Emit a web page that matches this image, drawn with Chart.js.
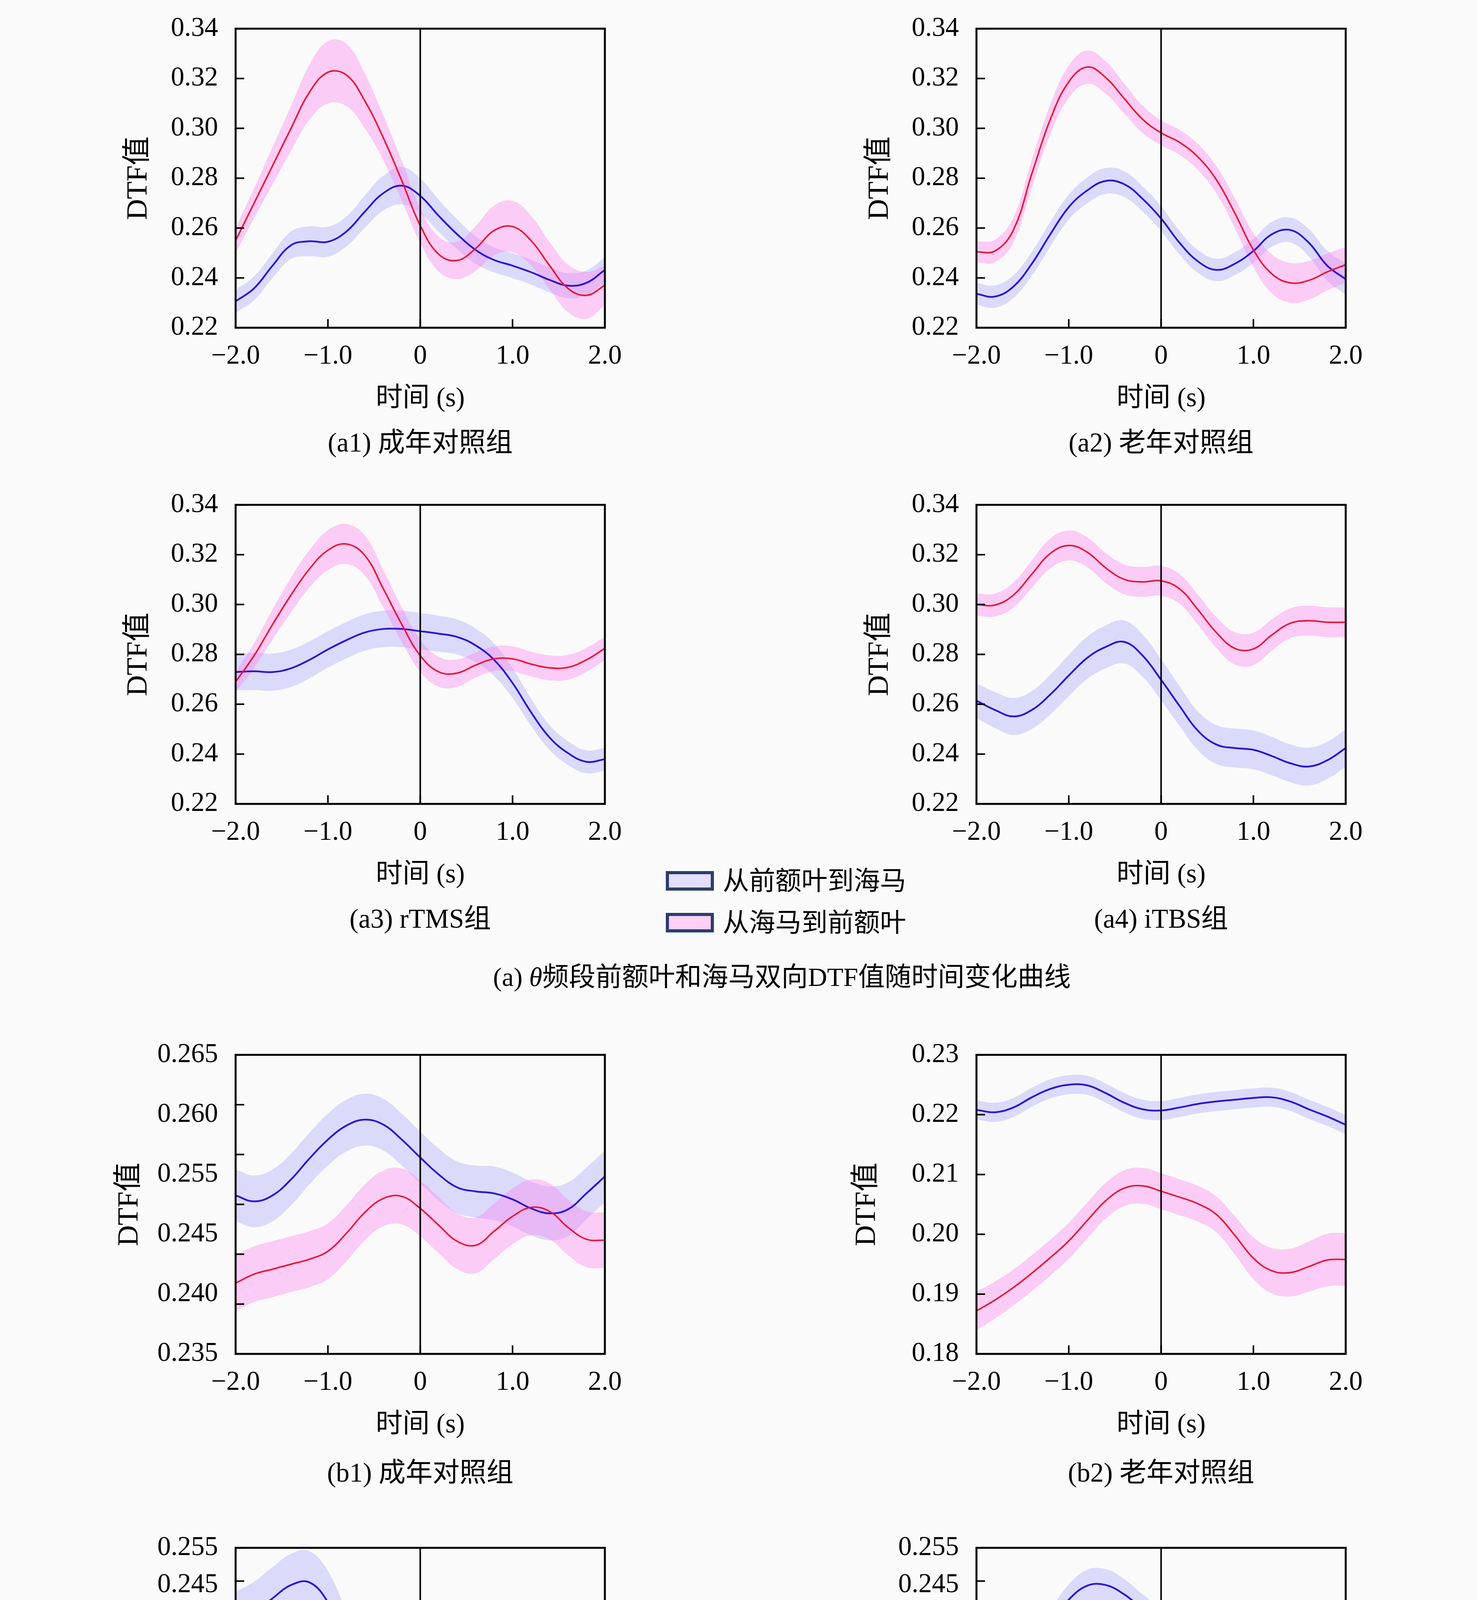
<!DOCTYPE html>
<html lang="zh">
<head>
<meta charset="utf-8">
<title>前额叶和海马双向DTF值随时间变化曲线</title>
<script src="https://cdn.jsdelivr.net/npm/chart.js@4.4.1/dist/chart.umd.min.js"></script>
<style>
  html, body { margin: 0; padding: 0; background: #fafafa; }
  body {
    width: 3780px; height: 5208px; position: relative; overflow: hidden;
    font-family: 'Liberation Serif', 'Noto Sans CJK SC', serif; color: #000;
  }
  .panel { position: absolute; }
  .caption {
    position: absolute; font-size: 69px; line-height: 82px; white-space: nowrap;
    transform: translate(-50%, -50%);
  }
  .caption.group { font-size: 68px; }
  .legend {
    position: absolute; display: flex; align-items: center; font-size: 67px;
    line-height: 80px; white-space: nowrap; transform: translateY(-50%);
  }
  .legend .box { width: 107px; height: 34px; border: 8px solid #2c3d6c; margin-right: 23px; }
</style>
</head>
<body>
<script>
// time axis (s)
const TIME = [-2.0, -1.8, -1.6, -1.4, -1.2, -1.0, -0.8, -0.6, -0.4, -0.2, 0.0,
              0.2, 0.4, 0.6, 0.8, 1.0, 1.2, 1.4, 1.6, 1.8, 2.0];
const X_TICKS = [-2, -1, 0, 1, 2];
const X_LABELS = ['−2.0', '−1.0', '0', '1.0', '2.0'];

// y tick labels, top to bottom, as printed
const A_Y_LABELS = ['0.34', '0.32', '0.30', '0.28', '0.26', '0.24', '0.22'];
const B1_Y_LABELS = ['0.265', '0.260', '0.255', '0.245', '0.240', '0.235'];
const B2_Y_LABELS = ['0.23', '0.22', '0.21', '0.20', '0.19', '0.18'];
const B34_Y_LABELS = ['0.255', '0.245', '0.240', '0.235', '0.230', '0.225', '0.220', '0.215', '0.210'];

// θ band: 从前额叶到海马 (blue) / 从海马到前额叶 (red), mean and half width of shaded band
const a1Blue = [0.2306, 0.2358, 0.2449, 0.2531, 0.2547, 0.2545, 0.2586, 0.2666, 0.2740, 0.2770, 0.2729,
                0.2649, 0.2575, 0.2512, 0.2472, 0.2449, 0.2423, 0.2392, 0.2369, 0.2380, 0.2432];
const a1BlueErr = [0.0046, 0.0048, 0.0050, 0.0055, 0.0060, 0.0060, 0.0060, 0.0065, 0.0070, 0.0075, 0.0070,
                   0.0065, 0.0060, 0.0055, 0.0050, 0.0050, 0.0050, 0.0050, 0.0050, 0.0050, 0.0050];
const a1Red = [0.2550, 0.2700, 0.2850, 0.3000, 0.3145, 0.3225, 0.3214, 0.3110, 0.2962, 0.2790, 0.2610,
               0.2495, 0.2470, 0.2518, 0.2590, 0.2606, 0.2550, 0.2450, 0.2358, 0.2330, 0.2370];
const a1RedErr = [0.0050, 0.0060, 0.0075, 0.0090, 0.0110, 0.0125, 0.0125, 0.0110, 0.0090, 0.0080, 0.0070,
                  0.0070, 0.0075, 0.0090, 0.0100, 0.0103, 0.0100, 0.0095, 0.0095, 0.0094, 0.0080];

const a2Blue = [0.2336, 0.2325, 0.2365, 0.2457, 0.2575, 0.2684, 0.2751, 0.2789, 0.2776, 0.2717, 0.2638,
                0.2541, 0.2466, 0.2432, 0.2457, 0.2508, 0.2575, 0.2592, 0.2541, 0.2449, 0.2395];
const a2BlueErr = [0.0044, 0.0045, 0.0046, 0.0048, 0.0050, 0.0050, 0.0052, 0.0052, 0.0052, 0.0050, 0.0050,
                   0.0048, 0.0046, 0.0045, 0.0046, 0.0048, 0.0050, 0.0050, 0.0055, 0.0060, 0.0063];
const a2Red = [0.2504, 0.2508, 0.2592, 0.2818, 0.3036, 0.3187, 0.3246, 0.3204, 0.3120, 0.3036, 0.2982,
               0.2944, 0.2885, 0.2793, 0.2659, 0.2512, 0.2416, 0.2380, 0.2390, 0.2424, 0.2453];
const a2RedErr = [0.0042, 0.0045, 0.0050, 0.0055, 0.0060, 0.0065, 0.0067, 0.0065, 0.0060, 0.0055, 0.0050,
                  0.0050, 0.0052, 0.0055, 0.0060, 0.0068, 0.0078, 0.0080, 0.0078, 0.0074, 0.0071];

const a3Blue = [0.2729, 0.2732, 0.2729, 0.2744, 0.2778, 0.2820, 0.2857, 0.2888, 0.2902, 0.2902, 0.2893,
                0.2883, 0.2870, 0.2836, 0.2778, 0.2685, 0.2568, 0.2467, 0.2404, 0.2369, 0.2379];
const a3BlueErr = [0.0073, 0.0075, 0.0075, 0.0075, 0.0074, 0.0073, 0.0073, 0.0073, 0.0073, 0.0073, 0.0073,
                   0.0072, 0.0070, 0.0068, 0.0065, 0.0060, 0.0055, 0.0050, 0.0048, 0.0046, 0.0046];
const a3Red = [0.2690, 0.2795, 0.2920, 0.3038, 0.3143, 0.3218, 0.3243, 0.3197, 0.3063, 0.2920, 0.2795,
               0.2730, 0.2725, 0.2757, 0.2782, 0.2782, 0.2761, 0.2746, 0.2748, 0.2778, 0.2824];
const a3RedErr = [0.0040, 0.0050, 0.0060, 0.0070, 0.0075, 0.0080, 0.0080, 0.0080, 0.0075, 0.0070, 0.0065,
                  0.0060, 0.0055, 0.0050, 0.0050, 0.0050, 0.0050, 0.0050, 0.0050, 0.0048, 0.0046];

const a4Blue = [0.2614, 0.2577, 0.2551, 0.2577, 0.2639, 0.2715, 0.2786, 0.2830, 0.2850, 0.2795, 0.2698,
                0.2593, 0.2493, 0.2438, 0.2424, 0.2417, 0.2392, 0.2363, 0.2350, 0.2375, 0.2424];
const a4BlueErr = [0.0070, 0.0072, 0.0074, 0.0076, 0.0080, 0.0083, 0.0085, 0.0086, 0.0086, 0.0085, 0.0083,
                   0.0080, 0.0078, 0.0078, 0.0078, 0.0078, 0.0077, 0.0076, 0.0076, 0.0075, 0.0075];
const a4Red = [0.3000, 0.2998, 0.3038, 0.3122, 0.3205, 0.3237, 0.3210, 0.3147, 0.3101, 0.3091, 0.3095,
               0.3063, 0.2979, 0.2887, 0.2824, 0.2822, 0.2878, 0.2925, 0.2935, 0.2929, 0.2929];
const a4RedErr = [0.0044, 0.0046, 0.0050, 0.0055, 0.0060, 0.0060, 0.0060, 0.0060, 0.0060, 0.0060, 0.0060,
                  0.0060, 0.0060, 0.0062, 0.0065, 0.0065, 0.0063, 0.0060, 0.0060, 0.0060, 0.0059];

// γ band
const b1Blue = [0.2509, 0.2503, 0.2509, 0.2525, 0.2546, 0.2565, 0.2579, 0.2585, 0.2580, 0.2565, 0.2547,
                0.2530, 0.2517, 0.2513, 0.2511, 0.2505, 0.2496, 0.2491, 0.2495, 0.2511, 0.2528];
const b1BlueErr = [0.0026, 0.0026, 0.0026, 0.0026, 0.0026, 0.0026, 0.0026, 0.0026, 0.0026, 0.0026, 0.0026,
                   0.0026, 0.0026, 0.0026, 0.0027, 0.0027, 0.0027, 0.0027, 0.0027, 0.0026, 0.0026];
const b1Red = [0.2421, 0.2430, 0.2435, 0.2440, 0.2445, 0.2453, 0.2471, 0.2492, 0.2506, 0.2508, 0.2496,
               0.2479, 0.2463, 0.2459, 0.2473, 0.2488, 0.2497, 0.2493, 0.2477, 0.2465, 0.2464];
const b1RedErr = [0.0028, 0.0028, 0.0028, 0.0028, 0.0028, 0.0028, 0.0028, 0.0028, 0.0028, 0.0028, 0.0028,
                  0.0028, 0.0028, 0.0028, 0.0028, 0.0028, 0.0028, 0.0028, 0.0028, 0.0028, 0.0028];

const b2Blue = [0.2208, 0.2204, 0.2212, 0.2229, 0.2243, 0.2250, 0.2249, 0.2236, 0.2220, 0.2209, 0.2207,
                0.2212, 0.2218, 0.2222, 0.2225, 0.2228, 0.2229, 0.2222, 0.2209, 0.2197, 0.2183];
const b2BlueErr = [0.0016, 0.0016, 0.0016, 0.0016, 0.0016, 0.0016, 0.0016, 0.0016, 0.0016, 0.0016, 0.0016,
                   0.0016, 0.0016, 0.0016, 0.0016, 0.0016, 0.0016, 0.0016, 0.0016, 0.0016, 0.0016];
const b2Red = [0.1872, 0.1890, 0.1911, 0.1935, 0.1961, 0.1989, 0.2023, 0.2056, 0.2077, 0.2081, 0.2072,
               0.2062, 0.2051, 0.2033, 0.1998, 0.1960, 0.1939, 0.1936, 0.1946, 0.1957, 0.1958];
const b2RedErr = [0.0032, 0.0031, 0.0030, 0.0030, 0.0030, 0.0030, 0.0030, 0.0030, 0.0030, 0.0030, 0.0030,
                  0.0030, 0.0030, 0.0030, 0.0032, 0.0035, 0.0038, 0.0040, 0.0042, 0.0044, 0.0044];

const b3Blue = [0.2438, 0.2452, 0.2474, 0.2494, 0.2498, 0.2468, 0.2408, 0.2339, 0.2288, 0.2254, 0.2237,
                0.2252, 0.2282, 0.2300, 0.2298, 0.2288, 0.2277, 0.2271, 0.2267, 0.2261, 0.2264];
const b3BlueErr = [0.0046, 0.0047, 0.0047, 0.0047, 0.0047, 0.0047, 0.0046, 0.0045, 0.0044, 0.0042, 0.0040,
                   0.0040, 0.0040, 0.0040, 0.0040, 0.0040, 0.0040, 0.0040, 0.0040, 0.0040, 0.0040];
const b3Red = [0.2217, 0.2221, 0.2224, 0.2221, 0.2210, 0.2204, 0.2222, 0.2266, 0.2307, 0.2324, 0.2320,
               0.2294, 0.2254, 0.2210, 0.2172, 0.2148, 0.2148, 0.2169, 0.2191, 0.2201, 0.2199];
const b3RedErr = [0.0035, 0.0035, 0.0035, 0.0035, 0.0035, 0.0035, 0.0035, 0.0036, 0.0037, 0.0037, 0.0037,
                  0.0036, 0.0035, 0.0035, 0.0035, 0.0035, 0.0035, 0.0035, 0.0035, 0.0034, 0.0034];

const b4Blue = [0.2340, 0.2361, 0.2383, 0.2405, 0.2436, 0.2472, 0.2493, 0.2494, 0.2480, 0.2458, 0.2438,
                0.2422, 0.2411, 0.2401, 0.2394, 0.2391, 0.2394, 0.2398, 0.2401, 0.2399, 0.2390];
const b4BlueErr = [0.0021, 0.0021, 0.0022, 0.0022, 0.0022, 0.0023, 0.0024, 0.0024, 0.0023, 0.0022, 0.0022,
                   0.0022, 0.0022, 0.0022, 0.0022, 0.0022, 0.0022, 0.0022, 0.0022, 0.0022, 0.0022];
const b4Red = [0.2175, 0.2184, 0.2206, 0.2232, 0.2257, 0.2283, 0.2313, 0.2345, 0.2368, 0.2372, 0.2365,
               0.2357, 0.2351, 0.2347, 0.2339, 0.2321, 0.2302, 0.2287, 0.2283, 0.2301, 0.2337];
const b4RedErr = [0.0031, 0.0031, 0.0032, 0.0032, 0.0032, 0.0032, 0.0033, 0.0033, 0.0033, 0.0033, 0.0033,
                  0.0032, 0.0032, 0.0032, 0.0032, 0.0032, 0.0032, 0.0032, 0.0032, 0.0032, 0.0032];

// ---- styling / layout ----
const BLUE = '#2a16d6';
const RED = '#ee1030';
const BLUE_BAND = 'rgba(100, 90, 255, 0.20)';
const RED_BAND = 'rgba(255, 110, 235, 0.32)';
const FONT = "'Liberation Serif', 'Noto Sans CJK SC', serif";
const FONT_SIZE = 69;
const YTITLE_SIZE = 74;

const COL_LEFT = [603, 2499];
const PLOT_W = 945;
const ROW_TOP = [37, 1256, 2664, 3926];
const PLOT_H = 802;
const PAD_TOP = 50;
const PAD_RIGHT = 100;
const X_AXIS_H = 224;

Chart.defaults.font.family = FONT;
Chart.defaults.font.size = FONT_SIZE;
Chart.defaults.color = '#000';

const panels = [
  { blue: a1Blue, blueErr: a1BlueErr, red: a1Red, redErr: a1RedErr, yMin: 0.22, yMax: 0.34, yStep: 0.02,
    yLabels: A_Y_LABELS, col: 0, row: 0, titleX: 355, caption: '(a1) 成年对照组', capY: 1133 },
  { blue: a2Blue, blueErr: a2BlueErr, red: a2Red, redErr: a2RedErr, yMin: 0.22, yMax: 0.34, yStep: 0.02,
    yLabels: A_Y_LABELS, col: 1, row: 0, titleX: 2252, caption: '(a2) 老年对照组', capY: 1133 },
  { blue: a3Blue, blueErr: a3BlueErr, red: a3Red, redErr: a3RedErr, yMin: 0.22, yMax: 0.34, yStep: 0.02,
    yLabels: A_Y_LABELS, col: 0, row: 1, titleX: 355, caption: '(a3) rTMS组', capY: 2352 },
  { blue: a4Blue, blueErr: a4BlueErr, red: a4Red, redErr: a4RedErr, yMin: 0.22, yMax: 0.34, yStep: 0.02,
    yLabels: A_Y_LABELS, col: 1, row: 1, titleX: 2252, caption: '(a4) iTBS组', capY: 2352 },
  { blue: b1Blue, blueErr: b1BlueErr, red: b1Red, redErr: b1RedErr, yMin: 0.235, yMax: 0.265, yStep: 0.005,
    yLabels: B1_Y_LABELS, col: 0, row: 2, titleX: 332, caption: '(b1) 成年对照组', capY: 3770 },
  { blue: b2Blue, blueErr: b2BlueErr, red: b2Red, redErr: b2RedErr, yMin: 0.18, yMax: 0.23, yStep: 0.01,
    yLabels: B2_Y_LABELS, col: 1, row: 2, titleX: 2219, caption: '(b2) 老年对照组', capY: 3770 },
  { blue: b3Blue, blueErr: b3BlueErr, red: b3Red, redErr: b3RedErr, yMin: 0.21, yMax: 0.255, yStep: 0.005,
    yLabels: B34_Y_LABELS, col: 0, row: 3, titleX: 332, caption: '(b3) rTMS组', capY: 5035 },
  { blue: b4Blue, blueErr: b4BlueErr, red: b4Red, redErr: b4RedErr, yMin: 0.21, yMax: 0.255, yStep: 0.005,
    yLabels: B34_Y_LABELS, col: 1, row: 3, titleX: 2219, caption: '(b4) iTBS组', capY: 5055 }
];

// frame, inward ticks and the t = 0 line
const framePlugin = {
  id: 'frame',
  afterDatasetsDraw(chart, args, opts) {
    const { ctx, chartArea: a, scales } = chart;
    const xs = scales.x, ys = scales.y;
    const tick = 22;
    ctx.save();
    ctx.strokeStyle = '#000';
    ctx.lineCap = 'butt';

    ctx.lineWidth = 4;
    const x0 = xs.getPixelForValue(0);
    ctx.beginPath();
    ctx.moveTo(x0, a.top);
    ctx.lineTo(x0, a.bottom);
    ctx.stroke();

    ctx.beginPath();
    X_TICKS.forEach(v => {
      const px = xs.getPixelForValue(v);
      ctx.moveTo(px, a.bottom);
      ctx.lineTo(px, a.bottom - tick);
    });
    const n = Math.round((opts.max - opts.min) / opts.step);
    for (let i = 0; i <= n; i++) {
      const py = ys.getPixelForValue(opts.min + i * opts.step);
      ctx.moveTo(a.left, py);
      ctx.lineTo(a.left + tick, py);
    }
    ctx.stroke();

    ctx.lineWidth = 5;
    ctx.strokeRect(a.left, a.top, a.right - a.left, a.bottom - a.top);
    ctx.restore();
  }
};

function toPoints(values) {
  return TIME.map((t, i) => ({ x: t, y: values[i] }));
}

// upper edge fills down to the lower edge that follows it
function bandSet(values, err, color, upper, order) {
  const pts = TIME.map((t, i) => ({ x: t, y: upper ? values[i] + err[i] : values[i] - err[i] }));
  return {
    data: pts, fill: upper ? '+1' : false, backgroundColor: color,
    borderColor: 'transparent', borderWidth: 0, pointRadius: 0, tension: 0.4, order: order
  };
}

function lineSet(values, color, width, order) {
  return {
    data: toPoints(values), fill: false, borderColor: color, borderWidth: width,
    pointRadius: 0, tension: 0.4, order: order
  };
}

panels.forEach(p => {
  const plotLeft = COL_LEFT[p.col];
  const plotTop = ROW_TOP[p.row];
  const left = p.titleX - Math.round(YTITLE_SIZE * 0.6);
  const yAxisW = plotLeft - left;
  const w = yAxisW + PLOT_W + PAD_RIGHT;
  const h = PAD_TOP + PLOT_H + X_AXIS_H;

  const box = document.createElement('div');
  box.className = 'panel';
  box.style.left = left + 'px';
  box.style.top = (plotTop - PAD_TOP) + 'px';
  const canvas = document.createElement('canvas');
  canvas.width = w;
  canvas.height = h;
  box.appendChild(canvas);
  document.body.appendChild(box);

  const nLab = p.yLabels.length;

  new Chart(canvas.getContext('2d'), {
    type: 'line',
    data: {
      datasets: [
        bandSet(p.blue, p.blueErr, BLUE_BAND, true, 4),
        bandSet(p.blue, p.blueErr, BLUE_BAND, false, 4),
        bandSet(p.red, p.redErr, RED_BAND, true, 3),
        bandSet(p.red, p.redErr, RED_BAND, false, 3),
        lineSet(p.blue, BLUE, 4.5, 1),
        lineSet(p.red, RED, 3.8, 0)
      ]
    },
    options: {
      responsive: false,
      devicePixelRatio: 1,
      animation: false,
      events: [],
      layout: { padding: { top: PAD_TOP, right: PAD_RIGHT, bottom: 0, left: 0 } },
      plugins: {
        legend: { display: false },
        tooltip: { enabled: false },
        frame: { min: p.yMin, max: p.yMax, step: p.yStep }
      },
      scales: {
        x: {
          type: 'linear', min: -2, max: 2,
          grid: { display: false, drawTicks: false },
          border: { display: false },
          afterBuildTicks: s => { s.ticks = X_TICKS.map(v => ({ value: v })); },
          afterFit: s => { s.height = X_AXIS_H; },
          ticks: {
            padding: 32, maxRotation: 0, autoSkip: false,
            callback: (v, i) => X_LABELS[i]
          },
          title: { display: true, text: '时间 (s)', padding: 0, font: { size: FONT_SIZE } }
        },
        y: {
          type: 'linear', display: false, min: p.yMin, max: p.yMax
        },
        yl: {
          type: 'linear', position: 'left', min: 0, max: nLab - 1,
          grid: { display: false, drawTicks: false },
          border: { display: false },
          afterBuildTicks: s => { s.ticks = p.yLabels.map((_, i) => ({ value: i })); },
          afterFit: s => { s.width = yAxisW; },
          ticks: {
            padding: 45, autoSkip: false,
            callback: v => p.yLabels[nLab - 1 - v]
          },
          title: { display: true, text: 'DTF值', padding: 0, font: { size: YTITLE_SIZE } }
        }
      }
    },
    plugins: [framePlugin]
  });

  const cap = document.createElement('div');
  cap.className = 'caption';
  cap.textContent = p.caption;
  cap.style.left = (plotLeft + PLOT_W / 2) + 'px';
  cap.style.top = p.capY + 'px';
  document.body.appendChild(cap);
});

// legends and group captions
function addLegend(cy, text, fill) {
  const el = document.createElement('div');
  el.className = 'legend';
  el.style.left = '1704px';
  el.style.top = cy + 'px';
  const sw = document.createElement('span');
  sw.className = 'box';
  sw.style.background = fill;
  el.appendChild(sw);
  el.appendChild(document.createTextNode(text));
  document.body.appendChild(el);
}
addLegend(2255, '从前额叶到海马', '#e2deff');
addLegend(2362, '从海马到前额叶', '#ffcff6');
addLegend(4906, '从前额叶到海马', '#e2deff');
addLegend(5012, '从海马到前额叶', '#ffcff6');

function addCaption(cy, html) {
  const el = document.createElement('div');
  el.className = 'caption group';
  el.innerHTML = html;
  el.style.left = '2001px';
  el.style.top = cy + 'px';
  document.body.appendChild(el);
}
addCaption(2501, '(a) <i>θ</i>频段前额叶和海马双向DTF值随时间变化曲线');
addCaption(5165, '(b) <i>γ</i>频段前额叶和海马双向DTF值随时间变化曲线');
</script>
</body>
</html>
